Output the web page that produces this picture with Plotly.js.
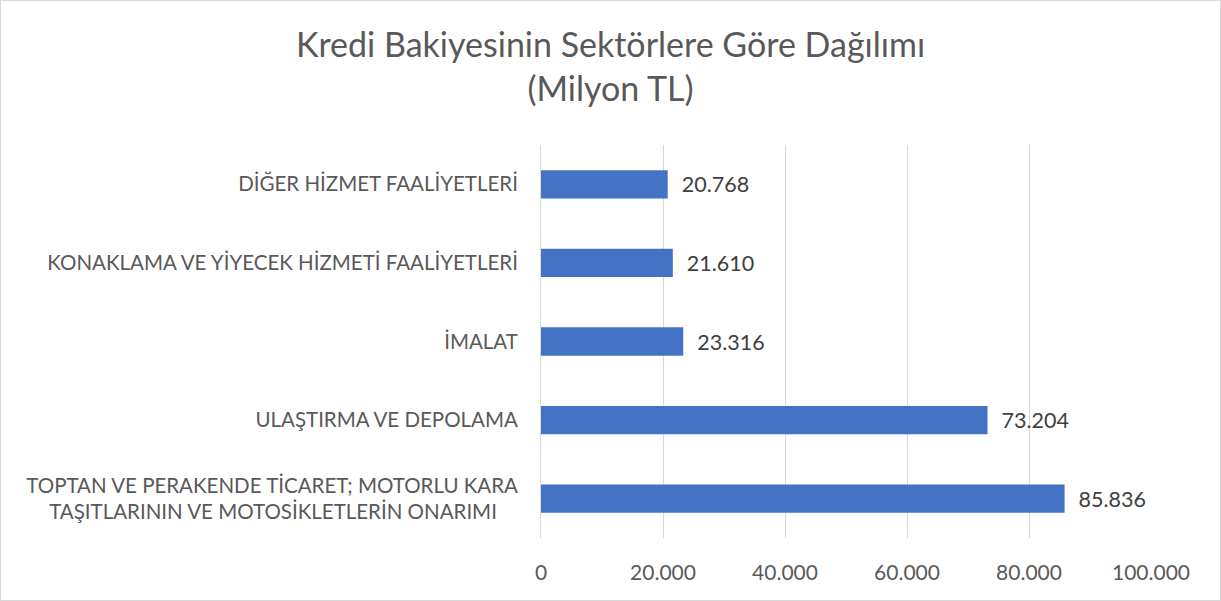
<!DOCTYPE html>
<html><head><meta charset="utf-8">
<script src="https://cdn.plot.ly/plotly-3.0.1.min.js"></script>
<style>
html,body{margin:0;padding:0;background:#fff;}
#frame{position:absolute;left:0;top:0;width:1219px;height:599px;border:1px solid #d9d9d9;}
#chart{position:absolute;left:0;top:0;width:1221px;height:601px;}
</style></head>
<body><div id="frame"></div><div id="chart"></div>
<script>
const categories = [
  "DİĞER HİZMET FAALİYETLERİ",
  "KONAKLAMA VE YİYECEK HİZMETİ FAALİYETLERİ",
  "İMALAT",
  "ULAŞTIRMA VE DEPOLAMA",
  "TOPTAN VE PERAKENDE TİCARET; MOTORLU KARA<br>TAŞITLARININ VE MOTOSİKLETLERİN ONARIMI\u00A0\u00A0\u00A0\u00A0"
];
const values = [20768, 21610, 23316, 73204, 85836];
const tickValues = [0, 20000, 40000, 60000, 80000, 100000];

const font = "Lato, 'Open Sans', sans-serif";
Plotly.newPlot('chart', [{
  type: 'bar', orientation: 'h',
  x: values, y: categories,
  marker: {color: '#4472c4'},
  texttemplate: '  %{x:,}', textposition: 'outside', cliponaxis: false,
  textfont: {family: font, size: 21.5, color: '#404040'},
  hoverinfo: 'none'
}], {
  width: 1221, height: 601,
  paper_bgcolor: 'rgba(0,0,0,0)', plot_bgcolor: 'rgba(0,0,0,0)',
  separators: ',.',
  margin: {l: 541, r: 70, t: 145, b: 63},
  bargap: 0.64,
  showlegend: false,
  title: {text: 'Kredi Bakiyesinin Sektörlere Göre Dağılımı<br>(Milyon TL)', x: 0.5, xanchor: 'center', y: 0.905, yanchor: 'top',
    font: {family: font, size: 34, color: '#595959'}},
  xaxis: {range: [0, 100000], tickvals: tickValues, tickformat: ',', showgrid: true, gridcolor: '#d9d9d9', gridwidth: 1,
    zeroline: false, showline: false, ticks: '', ticklen: 0, ticklabelstandoff: 20,
    tickfont: {family: font, size: 21, color: '#595959'}, fixedrange: true},
  yaxis: {autorange: 'reversed', showgrid: false, zeroline: false, showline: true, linecolor: '#d9d9d9', linewidth: 1,
    ticks: '', ticklabelstandoff: 18, automargin: false,
    tickfont: {family: font, size: 20.5, color: '#595959'}, fixedrange: true}
}, {staticPlot: true});
</script></body></html>
